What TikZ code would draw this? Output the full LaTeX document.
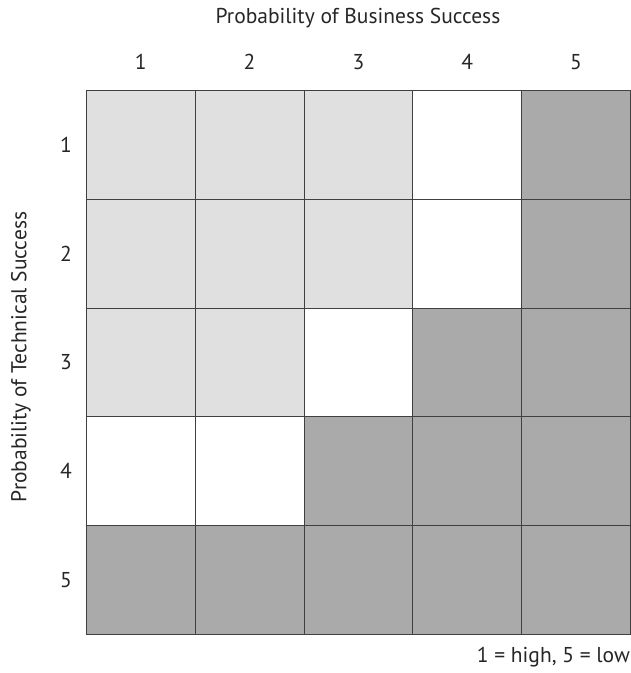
\documentclass[tikz,border=0pt]{standalone}
\usepackage{fontspec}
\setmainfont{PT Sans}
\definecolor{lightcell}{HTML}{E0E0E0}
\definecolor{darkcell}{HTML}{AAAAAA}

\begin{document}
\begin{tikzpicture}[x=1pt, y=1pt,
  cell/.style={draw=black!75, line width=0.8pt, minimum size=108.8pt, inner sep=0pt, anchor=north west},
  lbl/.style={font=\fontsize{21.5}{25}\selectfont, text=black!85}]
  \useasboundingbox (0,0) rectangle (631,673);

  % Grid of cells, row by row
  \foreach \shade [count=\c] in {lightcell,lightcell,lightcell,white,darkcell}
    \node[cell, fill=\shade] (c1\c) at ({86+(\c-1)*108.8}, 583) {};
  \foreach \shade [count=\c] in {lightcell,lightcell,lightcell,white,darkcell}
    \node[cell, fill=\shade] (c2\c) at ({86+(\c-1)*108.8}, {583-108.8}) {};
  \foreach \shade [count=\c] in {lightcell,lightcell,white,darkcell,darkcell}
    \node[cell, fill=\shade] (c3\c) at ({86+(\c-1)*108.8}, {583-2*108.8}) {};
  \foreach \shade [count=\c] in {white,white,darkcell,darkcell,darkcell}
    \node[cell, fill=\shade] (c4\c) at ({86+(\c-1)*108.8}, {583-3*108.8}) {};
  \foreach \shade [count=\c] in {darkcell,darkcell,darkcell,darkcell,darkcell}
    \node[cell, fill=\shade] (c5\c) at ({86+(\c-1)*108.8}, {583-4*108.8}) {};

  % Column and row numbers
  \foreach \i in {1,...,5} {
    \node[lbl] (col\i) at ([yshift=28pt]c1\i.north) {\i};
    \node[lbl] (row\i) at ([xshift=-20pt]c\i1.west) {\i};
  }

  % Axis titles
  \node[lbl] (business) at (358, 655) {Probability of Business Success};
  \node[lbl, rotate=90] (technical) at (21, 316) {Probability of Technical Success};

  % Key
  \node[lbl, anchor=east, inner sep=0pt] (key) at (630, 16) {1 = high, 5 = low};
\end{tikzpicture}
\end{document}
